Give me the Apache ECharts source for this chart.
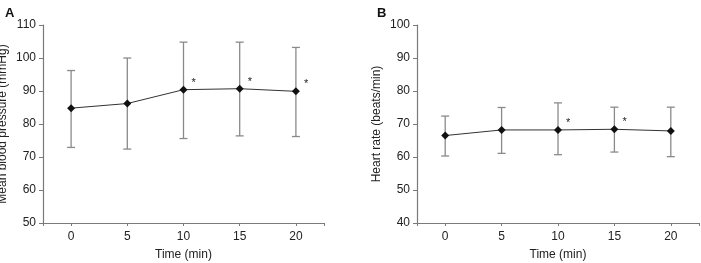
<!DOCTYPE html>
<html>
<head>
<meta charset="utf-8">
<script src="https://cdn.jsdelivr.net/npm/echarts@6/dist/echarts.min.js"></script>
<style>
  html, body { margin: 0; padding: 0; background: #fff; }
  #chart { width: 701px; height: 263px; }
</style>
</head>
<body>
<div id="chart"></div>
<script>
// 数据
var times = [0, 5, 10, 15, 20];
var xTicks = [0, 5, 10, 15, 20];

var mbpMean = [84.8, 86.2, 90.4, 90.7, 89.9];
var mbpUpper = [96.2, 100.0, 104.8, 104.8, 103.2];
var mbpLower = [72.9, 72.4, 75.6, 76.4, 76.2];
var mbpSig = [false, false, true, true, true];

var hrMean = [66.5, 68.2, 68.2, 68.4, 67.9];
var hrUpper = [72.4, 75.0, 76.4, 75.1, 75.1];
var hrLower = [60.3, 61.1, 60.7, 61.5, 60.1];
var hrSig = [false, false, true, true, false];

var axisColor = '#7a7a7a';
var fontFam = 'Liberation Sans, Arial, sans-serif';

function lineData(mean, sig) {
    var out = [];
    for (var i = 0; i < times.length; i++) {
        out.push({
            value: [times[i], mean[i]],
            label: {
                show: sig[i],
                formatter: '*',
                position: 'right',
                offset: [-1, -7],
                fontSize: 11,
                color: '#222',
                fontFamily: fontFam
            }
        });
    }
    return out;
}

function barData(upper, lower) {
    var out = [];
    for (var i = 0; i < times.length; i++) {
        out.push([times[i], lower[i], upper[i]]);
    }
    return out;
}

// 误差线
function renderBar(params, api) {
    var x = api.value(0);
    var lo = api.coord([x, api.value(1)]);
    var hi = api.coord([x, api.value(2)]);
    var w = 4;
    var st = { stroke: '#8a8a8a', lineWidth: 1.3 };
    return {
        type: 'group',
        children: [
            { type: 'line', shape: { x1: lo[0], y1: lo[1], x2: hi[0], y2: hi[1] }, style: st },
            { type: 'line', shape: { x1: hi[0] - w, y1: hi[1], x2: hi[0] + w, y2: hi[1] }, style: st },
            { type: 'line', shape: { x1: lo[0] - w, y1: lo[1], x2: lo[0] + w, y2: lo[1] }, style: st }
        ]
    };
}

function xAxisOpt(idx) {
    return {
        type: 'value',
        gridIndex: idx,
        min: -2.5,
        max: 22.5,
        name: 'Time (min)',
        nameLocation: 'middle',
        nameGap: 26,
        nameTextStyle: { fontSize: 12, color: '#222', fontFamily: fontFam },
        axisLine: { show: true, onZero: false, lineStyle: { color: axisColor, width: 1.2 } },
        axisTick: { show: true, length: 3, lineStyle: { color: axisColor }, customValues: [-2.5].concat(xTicks, [22.5]) },
        axisLabel: { fontSize: 12, color: '#222', fontFamily: fontFam, margin: 8, customValues: xTicks },
        splitLine: { show: false }
    };
}

function yAxisOpt(idx, name, min, max) {
    return {
        type: 'value',
        gridIndex: idx,
        min: min,
        max: max,
        interval: 10,
        name: name,
        nameLocation: 'middle',
        nameGap: 34,
        nameTextStyle: { fontSize: 12, color: '#222', fontFamily: fontFam },
        axisLine: { show: true, onZero: false, lineStyle: { color: axisColor, width: 1.2 } },
        axisTick: { show: true, length: 4, lineStyle: { color: axisColor } },
        axisLabel: { fontSize: 12, color: '#222', fontFamily: fontFam, margin: 7 },
        splitLine: { show: false }
    };
}

var myChart = echarts.init(document.getElementById('chart'));
var option = {
    backgroundColor: '#fff',
    animation: false,
    title: [
        { text: 'A', left: 0, top: 2, textStyle: { fontSize: 13, fontWeight: 'bold', color: '#111', fontFamily: fontFam } },
        { text: 'B', left: 372, top: 2, textStyle: { fontSize: 13, fontWeight: 'bold', color: '#111', fontFamily: fontFam } }
    ],
    grid: [
        { left: 43, top: 25, width: 281, height: 198, outerBoundsMode: 'none', containLabel: false },
        { left: 417, top: 25, width: 282, height: 198, outerBoundsMode: 'none', containLabel: false }
    ],
    xAxis: [xAxisOpt(0), xAxisOpt(1)],
    yAxis: [
        yAxisOpt(0, 'Mean blood pressure (mmHg)', 50, 110),
        yAxisOpt(1, 'Heart rate (beats/min)', 40, 100)
    ],
    series: [
        {
            type: 'custom',
            xAxisIndex: 0,
            yAxisIndex: 0,
            renderItem: renderBar,
            data: barData(mbpUpper, mbpLower),
            z: 1
        },
        {
            type: 'line',
            xAxisIndex: 0,
            yAxisIndex: 0,
            data: lineData(mbpMean, mbpSig),
            symbol: 'diamond',
            symbolSize: 8,
            itemStyle: { color: '#111' },
            lineStyle: { color: '#333', width: 1 },
            z: 3
        },
        {
            type: 'custom',
            xAxisIndex: 1,
            yAxisIndex: 1,
            renderItem: renderBar,
            data: barData(hrUpper, hrLower),
            z: 1
        },
        {
            type: 'line',
            xAxisIndex: 1,
            yAxisIndex: 1,
            data: lineData(hrMean, hrSig),
            symbol: 'diamond',
            symbolSize: 8,
            itemStyle: { color: '#111' },
            lineStyle: { color: '#333', width: 1 },
            z: 3
        }
    ]
};
myChart.setOption(option);
</script>
</body>
</html>
